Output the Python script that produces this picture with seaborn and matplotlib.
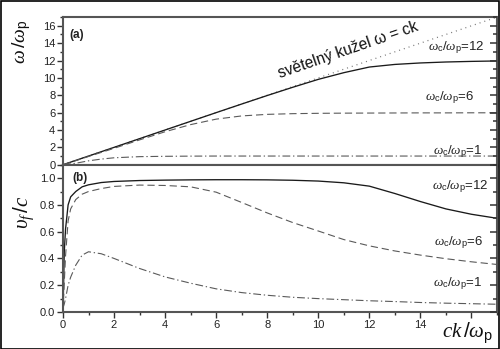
import numpy as np
import pandas as pd
import matplotlib
matplotlib.use("Agg")
import matplotlib.pyplot as plt
from matplotlib.patches import Rectangle
from matplotlib.ticker import MultipleLocator
import seaborn as sns

# ---------------- data ----------------
k_top = [0, 0.5, 1, 1.5, 2, 3, 4, 5, 6, 7, 8, 9, 10, 11, 12, 13, 14, 15, 16, 17]
w_12 = [0, 0.5, 1, 1.5, 2, 3, 4, 5, 6, 6.99, 7.97, 8.92, 9.83, 10.6, 11.25,
        11.55, 11.72, 11.83, 11.9, 11.95]
w_6 = [0, 0.47, 0.95, 1.42, 1.89, 2.86, 3.8, 4.62, 5.25, 5.62, 5.8, 5.88,
       5.92, 5.94, 5.95, 5.96, 5.97, 5.97, 5.98, 5.98]
w_1 = [0, 0.17, 0.45, 0.65, 0.8, 0.93, 0.97, 0.99, 1.0, 1.0, 1.0, 1.0, 1.0,
       1.0, 1.0, 1.0, 1.0, 1.0, 1.0, 1.0]
k_cone = [0, 17]
w_cone = [0, 17]

k_bot = [0, 0.05, 0.1, 0.2, 0.3, 0.5, 0.75, 1, 1.5, 2, 3, 4, 5, 6, 7, 8, 9,
         10, 11, 12, 13, 14, 15, 16, 17]
v_12 = [0.0, 0.45, 0.62, 0.80, 0.86, 0.90, 0.935, 0.95, 0.967, 0.975, 0.982,
        0.985, 0.987, 0.988, 0.988, 0.987, 0.984, 0.978, 0.965, 0.94, 0.885,
        0.825, 0.77, 0.73, 0.70]
v_6 = [0.0, 0.22, 0.42, 0.68, 0.77, 0.84, 0.88, 0.90, 0.922, 0.938, 0.948,
       0.945, 0.935, 0.895, 0.818, 0.74, 0.668, 0.605, 0.541, 0.494, 0.456,
       0.425, 0.398, 0.375, 0.355]
v_1 = [0.03, 0.06, 0.10, 0.20, 0.26, 0.35, 0.425, 0.45, 0.435, 0.40, 0.325,
       0.262, 0.215, 0.173, 0.145, 0.125, 0.11, 0.10, 0.092, 0.084, 0.078,
       0.071, 0.066, 0.062, 0.058]

series_labels = [r"$\omega_{\rm c}/\omega_{\rm p}$=12",
                 r"$\omega_{\rm c}/\omega_{\rm p}$=6",
                 r"$\omega_{\rm c}/\omega_{\rm p}$=1"]
x_ticklabels = ["0", "2", "4", "6", "8", "10", "12", "14", ""]
v_ticklabels = ["0.0", "0.2", "0.4", "0.6", "0.8", "1.0"]
cone_label = "světelný kužel ω = ck"

# ---------------- style ----------------
sns.set_theme(style="white")
plt.rcParams["font.family"] = ["Liberation Sans", "DejaVu Sans"]
plt.rcParams["mathtext.fontset"] = "custom"
plt.rcParams["mathtext.rm"] = "Liberation Sans"
plt.rcParams["mathtext.it"] = "Liberation Serif:italic"
plt.rcParams["mathtext.bf"] = "Liberation Sans:bold"
plt.rcParams["ytick.right"] = True
plt.rcParams["xtick.bottom"] = True
plt.rcParams["ytick.left"] = True

spine_col = "#555555"
tick_col = "#333333"
fig = plt.figure(figsize=(5.0, 3.49), dpi=100)
fig.patch.set_facecolor("white")
ax1 = fig.add_axes([0.126, 0.528, 0.868, 0.423])
ax2 = fig.add_axes([0.126, 0.106, 0.868, 0.422], sharex=ax1)

top = pd.DataFrame({"k": k_top, "w12": w_12, "w6": w_6, "w1": w_1})
cone = pd.DataFrame({"k": k_cone, "w": w_cone})
bot = pd.DataFrame({"k": k_bot, "v12": v_12, "v6": v_6, "v1": v_1})

DASH = (6.5, 3.5)
DASHDOT = (7, 2.5, 1.2, 2.5)

sns.lineplot(data=cone, x="k", y="w", ax=ax1, color="#777777", lw=0.9)
ax1.lines[-1].set_dashes((0.8, 3.2))
sns.lineplot(data=top, x="k", y="w12", ax=ax1, color="#1a1a1a", lw=0.95)
sns.lineplot(data=top, x="k", y="w6", ax=ax1, color="#5a5a5a", lw=0.8)
ax1.lines[-1].set_dashes(DASH)
sns.lineplot(data=top, x="k", y="w1", ax=ax1, color="#5a5a5a", lw=0.8)
ax1.lines[-1].set_dashes(DASHDOT)

sns.lineplot(data=bot, x="k", y="v12", ax=ax2, color="#1a1a1a", lw=0.95)
sns.lineplot(data=bot, x="k", y="v6", ax=ax2, color="#5a5a5a", lw=0.8)
ax2.lines[-1].set_dashes(DASH)
sns.lineplot(data=bot, x="k", y="v1", ax=ax2, color="#5a5a5a", lw=0.8)
ax2.lines[-1].set_dashes(DASHDOT)

ax1.set_ylim(0, 17)
ax2.set_ylim(0, 1.1)

for ax in (ax1, ax2):
    ax.set_xlim(0, 17)
    ax.set_xlabel("")
    ax.set_ylabel("")
    for s in ax.spines.values():
        s.set_color(spine_col)
        s.set_linewidth(1.5)
        s.set_visible(True)
    ax.xaxis.set_major_locator(MultipleLocator(2))
    ax.xaxis.set_minor_locator(MultipleLocator(1))
    ax.tick_params(axis="both", which="both", colors=tick_col,
                   labelcolor="#222222", labelsize=8, width=1.0, pad=1.5)
    ax.tick_params(axis="both", which="major", direction="out", length=4,
                   left=True, right=False, bottom=True, top=False)
    ax.tick_params(axis="both", which="minor", direction="out", length=2.5,
                   left=True, right=False, bottom=True, top=False)

ax1.yaxis.set_major_locator(MultipleLocator(2))
ax1.yaxis.set_minor_locator(MultipleLocator(1))
ax1.tick_params(axis="x", labelbottom=False)

ax2.set_yticks([0, 0.2, 0.4, 0.6, 0.8, 1.0])
ax2.set_yticklabels(v_ticklabels)
ax2.yaxis.set_minor_locator(MultipleLocator(0.1))
ax2.set_xticks(range(0, 17, 2))
ax2.set_xticklabels(x_ticklabels)

# right-hand inward ticks (no labels)
for ax, maj, mnr in ((ax1, 2, 1), (ax2, 0.2, 0.1)):
    tw = ax.twinx()
    tw.set_ylim(ax.get_ylim())
    tw.yaxis.set_major_locator(MultipleLocator(maj))
    tw.yaxis.set_minor_locator(MultipleLocator(mnr))
    for s in tw.spines.values():
        s.set_visible(False)
    tw.yaxis.set_ticks_position("right")
    tw.tick_params(axis="y", which="major", direction="in", length=5,
                   width=1.1, color=tick_col, labelright=False, right=True,
                   left=False)
    tw.tick_params(axis="y", which="minor", direction="in", length=3,
                   width=1.1, color=tick_col, labelright=False, right=True,
                   left=False)
    tw.grid(False)
    tw.set_zorder(5)

# annotations
ax1.text(0.55, 14.95, "(a)", fontsize=8.5, fontweight="bold", ha="center",
         va="center", color="#222222")
ax2.text(0.66, 1.003, "(b)", fontsize=8.5, fontweight="bold", ha="center",
         va="center", color="#222222")

lab_kw = dict(fontsize=9.5, ha="center", va="center", color="#222222")
ax1.text(15.4, 13.46, series_labels[0], **lab_kw)
ax1.text(15.15, 7.75, series_labels[1], **lab_kw)
ax1.text(15.45, 1.46, series_labels[2], **lab_kw)
ax2.text(15.57, 0.935, series_labels[0], **lab_kw)
ax2.text(15.5, 0.515, series_labels[1], **lab_kw)
ax2.text(15.45, 0.215, series_labels[2], **lab_kw)

ax1.text(11.15, 13.2, cone_label, fontsize=11.2, rotation=19, ha="center",
         va="center", color="#111111")

fig.text(22 / 500, 1 - 42 / 349, r"$\omega\,/\omega_{\rm p}$", rotation=90,
         fontsize=14, ha="center", va="center", color="#111111")
fig.text(24 / 500, 1 - 212 / 349, r"$\upsilon_f\,/c$", rotation=90,
         fontsize=15, ha="center", va="center", color="#111111")
fig.text(468 / 500, 1 - 333 / 349, r"$ck\,/\omega_{\rm p}$",
         fontsize=15, ha="center", va="center", color="#111111")

fig.add_artist(Rectangle((0.001, 0.001), 0.997, 0.996, transform=fig.transFigure,
                         fill=False, edgecolor="black", lw=1.2))

fig.savefig("out.png", dpi=100)
